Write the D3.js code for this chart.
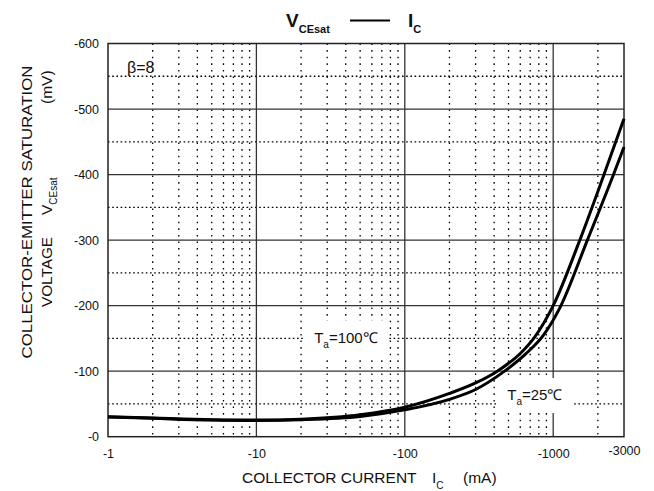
<!DOCTYPE html>
<html>
<head>
<meta charset="utf-8">
<script src="https://cdn.jsdelivr.net/npm/d3@7"></script>
<style>
  body { margin: 0; background: #fff; }
  text { font-family: "Liberation Sans", Arial, sans-serif; fill: #111; }
</style>
</head>
<body>
<div id="chart"></div>
<script>
// collector current (mA, magnitude) and VCE(sat) (mV, magnitude)
const current25 = [1, 2, 5, 10, 20, 50, 100, 200, 300, 470, 650, 860, 1100, 1700, 2550, 3000];
const vce25 = [30, 28, 25.5, 24.8, 26, 31, 41, 57, 72, 100, 126, 155, 195, 300, 400, 442];
const current100 = [1, 2, 5, 10, 20, 50, 100, 200, 300, 420, 600, 750, 1000, 1500, 2200, 3000];
const vce100 = [30.5, 28.5, 26, 25.3, 26.8, 33.5, 45, 66, 82, 100, 127, 152, 200, 298, 400, 485];

const xTicks = [1, 10, 100, 1000, 3000];
const xTickLabels = ['-1', '-10', '-100', '-1000', '-3000'];
const yTicks = [0, 100, 200, 300, 400, 500, 600];
const yTickLabels = ['-0', '-100', '-200', '-300', '-400', '-500', '-600'];

const width = 654, height = 491;
const plot = { left: 108, right: 624, top: 43.5, bottom: 436.7 };

const svg = d3.select('#chart').append('svg')
  .attr('width', width)
  .attr('height', height);

const x = d3.scaleLog().domain([1, 3000]).range([plot.left, plot.right]);
const y = d3.scaleLinear().domain([0, 600]).range([plot.bottom, plot.top]);

drawGrid();
drawLabels();
drawCurves();
drawAxes();
drawTitles();

function drawGrid() {
  const g = svg.append('g').attr('class', 'grid');

  // minor decades, dotted
  const minorX = [];
  [1, 10, 100, 1000].forEach(dec => {
    for (let m = 2; m <= 9; m++) {
      if (dec * m < 3000) minorX.push(dec * m);
    }
  });
  g.selectAll('line.minor-x').data(minorX).enter().append('line')
    .attr('class', 'minor-x')
    .attr('x1', d => x(d)).attr('x2', d => x(d))
    .attr('y1', plot.top).attr('y2', plot.bottom)
    .attr('stroke', '#000').attr('stroke-width', 1.3)
    .attr('stroke-dasharray', '1.6,5');

  const minorY = d3.range(50, 600, 100);
  g.selectAll('line.minor-y').data(minorY).enter().append('line')
    .attr('class', 'minor-y')
    .attr('x1', plot.left).attr('x2', plot.right)
    .attr('y1', d => y(d)).attr('y2', d => y(d))
    .attr('stroke', '#000').attr('stroke-width', 1.3)
    .attr('stroke-dasharray', '1.6,2.6');

  g.selectAll('line.major-x').data([10, 100, 1000]).enter().append('line')
    .attr('class', 'major-x')
    .attr('x1', d => x(d)).attr('x2', d => x(d))
    .attr('y1', plot.top).attr('y2', plot.bottom)
    .attr('stroke', '#333').attr('stroke-width', 1.3);

  g.selectAll('line.major-y').data([100, 200, 300, 400, 500]).enter().append('line')
    .attr('class', 'major-y')
    .attr('x1', plot.left).attr('x2', plot.right)
    .attr('y1', d => y(d)).attr('y2', d => y(d))
    .attr('stroke', '#333').attr('stroke-width', 1.3);

  g.append('rect')
    .attr('x', plot.left).attr('y', plot.top)
    .attr('width', plot.right - plot.left)
    .attr('height', plot.bottom - plot.top)
    .attr('fill', 'none')
    .attr('stroke', '#222').attr('stroke-width', 1.5);
}

function tempLabel(px, py, sub, rest) {
  const g = svg.append('g');
  const bg = g.append('rect').attr('fill', '#fff');
  const t = g.append('text')
    .attr('x', px).attr('y', py)
    .attr('font-size', 15);
  t.append('tspan').text('T');
  t.append('tspan').attr('font-size', 10).attr('dy', 5).text(sub);
  t.append('tspan').attr('dy', -5).text(rest);
  const b = t.node().getBBox();
  bg.attr('x', b.x - 11).attr('y', b.y - 8)
    .attr('width', b.width + 22).attr('height', b.height + 14);
}

function drawLabels() {
  tempLabel(x(24.5), y(143), 'a', '=100\u2103');
  tempLabel(x(490), y(56), 'a', '=25\u2103');

  svg.append('text')
    .attr('x', 127).attr('y', 73)
    .attr('font-size', 16)
    .text('\u03b2=8');
}

function drawCurves() {
  const line = d3.line()
    .x(d => x(d[0]))
    .y(d => y(d[1]))
    .curve(d3.curveMonotoneX);

  const series = [
    d3.zip(current25, vce25),
    d3.zip(current100, vce100)
  ];

  svg.append('g').selectAll('path').data(series).enter().append('path')
    .attr('d', line)
    .attr('fill', 'none')
    .attr('stroke', '#000')
    .attr('stroke-width', 3);
}

function drawAxes() {
  const xAxis = svg.append('g')
    .attr('transform', `translate(0,${plot.bottom})`)
    .call(d3.axisBottom(x).tickValues(xTicks).tickSize(0)
      .tickFormat((d, i) => xTickLabels[i]));
  xAxis.select('.domain').remove();
  xAxis.selectAll('text')
    .attr('font-size', 12.5)
    .attr('font-family', '"Liberation Sans", Arial, sans-serif')
    .attr('fill', '#111')
    .attr('dy', 18)
    .filter(d => d === 3000).attr('dy', 15);

  const yAxis = svg.append('g')
    .attr('transform', `translate(${plot.left},0)`)
    .call(d3.axisLeft(y).tickValues(yTicks).tickSize(0)
      .tickFormat((d, i) => yTickLabels[i]));
  yAxis.select('.domain').remove();
  yAxis.selectAll('text')
    .attr('font-size', 12.5)
    .attr('font-family', '"Liberation Sans", Arial, sans-serif')
    .attr('fill', '#111')
    .attr('x', -9);
}

function drawTitles() {
  // chart title
  const title = svg.append('g').attr('font-weight', 'bold');
  const t1 = title.append('text').attr('x', 286).attr('y', 27).attr('font-size', 19);
  t1.append('tspan').text('V');
  t1.append('tspan').attr('font-size', 11).attr('dy', 6).text('CEsat');
  title.append('line')
    .attr('x1', 350).attr('x2', 390).attr('y1', 20.5).attr('y2', 20.5)
    .attr('stroke', '#000').attr('stroke-width', 2);
  const t2 = title.append('text').attr('x', 408).attr('y', 27).attr('font-size', 19);
  t2.append('tspan').text('I');
  t2.append('tspan').attr('font-size', 11).attr('dy', 6).text('C');

  // x axis title
  const xt = svg.append('text').attr('x', 242).attr('y', 483).attr('font-size', 15.5);
  xt.append('tspan').text('COLLECTOR CURRENT');
  xt.append('tspan').attr('x', 432).text('I');
  xt.append('tspan').attr('font-size', 10).attr('dy', 6).text('C');
  xt.append('tspan').attr('x', 463).attr('dy', -6).text('(mA)');

  // y axis title, two rotated lines
  svg.append('text')
    .attr('transform', 'translate(32,212) rotate(-90)')
    .attr('text-anchor', 'middle')
    .attr('font-size', 15.5)
    .attr('textLength', 293)
    .attr('lengthAdjust', 'spacingAndGlyphs')
    .text('COLLECTOR-EMITTER SATURATION');

  const yt = svg.append('text')
    .attr('transform', 'translate(52,307) rotate(-90)')
    .attr('font-size', 15.5);
  yt.append('tspan').attr('textLength', 70).attr('lengthAdjust', 'spacingAndGlyphs').text('VOLTAGE');
  yt.append('tspan').attr('x', 92).text('V');
  yt.append('tspan').attr('font-size', 10).attr('dy', 5).text('CEsat');
  yt.append('tspan').attr('x', 203).attr('dy', -5).text('(mV)');
}
</script>
</body>
</html>
